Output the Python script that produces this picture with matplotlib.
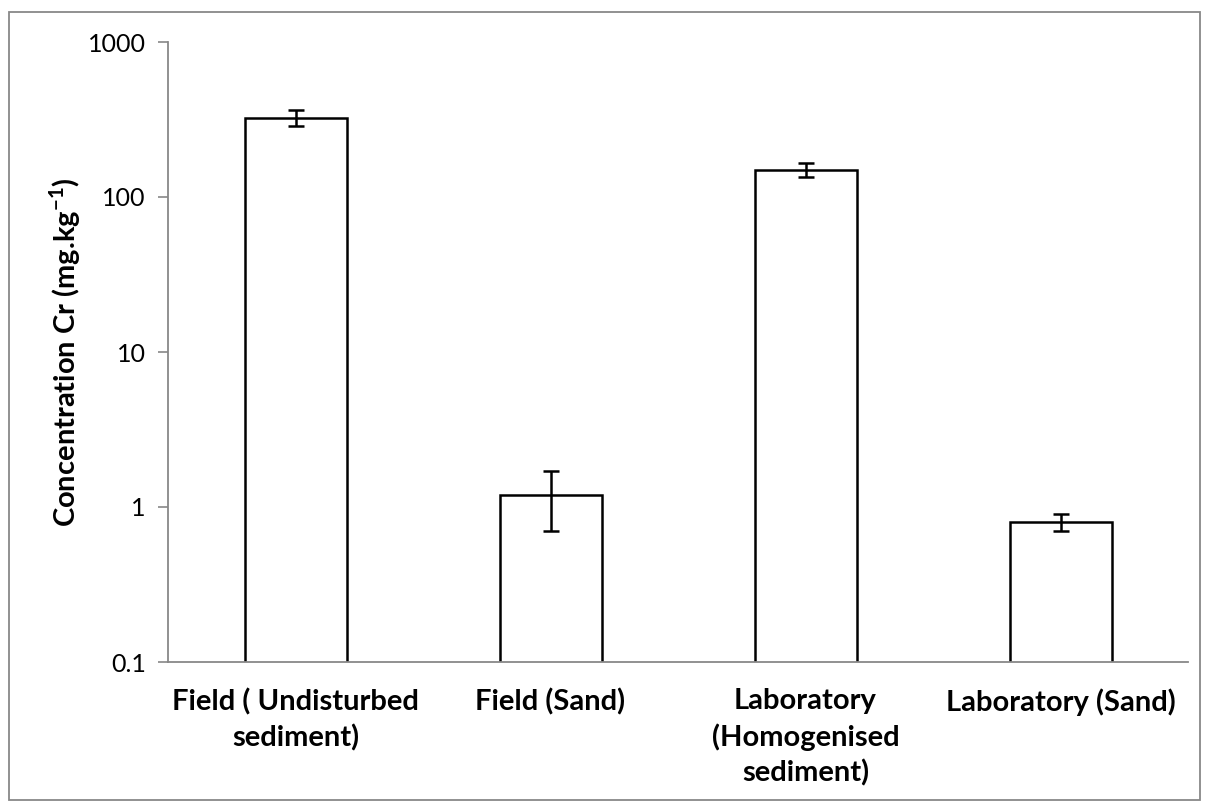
import matplotlib
matplotlib.use('Agg')
import matplotlib.pyplot as plt
from matplotlib.patches import Rectangle

categories = ['Field ( Undisturbed\nsediment)', 'Field (Sand)',
              'Laboratory\n(Homogenised\nsediment)', 'Laboratory (Sand)']
concentration = [325, 1.2, 150, 0.8]
error = [37, 0.5, 15, 0.1]
ytick_values = [0.1, 1, 10, 100, 1000]
ytick_labels = ['0.1', '1', '10', '100', '1000']

plt.rcParams['font.family'] = ['Lato', 'DejaVu Sans']
plt.rcParams['mathtext.fontset'] = 'custom'
plt.rcParams['mathtext.rm'] = 'Lato'
plt.rcParams['mathtext.bf'] = 'Lato:bold'

fig = plt.figure(figsize=(12.09, 8.09), dpi=100)
ax = fig.add_axes([168 / 1209, 1 - 662 / 809, 1020 / 1209, 620 / 809])

# grey frame around the whole chart
fig.patches.append(Rectangle((9 / 1209, 1 - 800 / 809), 1191 / 1209, 788 / 809,
                             transform=fig.transFigure, fill=False,
                             edgecolor='#888888', linewidth=1.3))

x = list(range(len(categories)))
ax.bar(x, concentration, width=0.4, color='white', edgecolor='black', linewidth=1.8,
       yerr=error, error_kw=dict(ecolor='black', elinewidth=1.8, capsize=6, capthick=1.8))

ax.set_yscale('log')
ax.set_ylim(0.1, 1000)
ax.set_xlim(-0.5, len(categories) - 0.5)
ax.set_yticks(ytick_values)
ax.set_yticklabels(ytick_labels, fontsize=18)
ax.minorticks_off()
ax.tick_params(axis='y', direction='out', length=7, width=1.2, color='#888888', pad=9)

ax.set_xticks(x)
ax.set_xticklabels(categories, fontsize=21, fontweight='bold', va='top', linespacing=1.38)
ax.tick_params(axis='x', length=0, pad=19)

for side in ['top', 'right']:
    ax.spines[side].set_visible(False)
for side in ['left', 'bottom']:
    ax.spines[side].set_color('#888888')
    ax.spines[side].set_linewidth(1.3)

fig.text(65 / 1209, 1 - 352 / 809, 'Concentration Cr (mg.kg$^{\\mathbf{-1}}$)',
         rotation=90, ha='center', va='center', fontsize=21, fontweight='bold')

fig.savefig('out.png', dpi=100)
